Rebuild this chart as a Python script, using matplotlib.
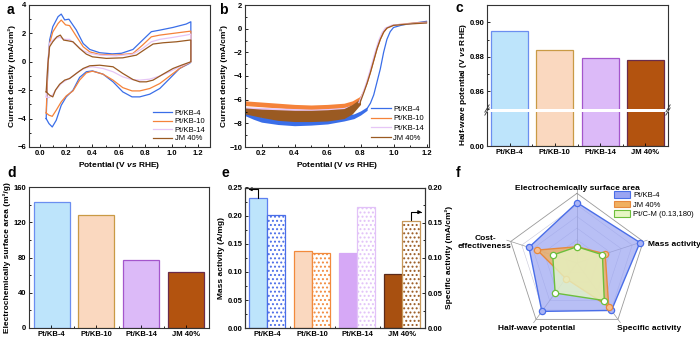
import numpy as np
import matplotlib
matplotlib.use('Agg')
import matplotlib.pyplot as plt
from matplotlib.ticker import MultipleLocator, FixedLocator
from matplotlib.patches import Patch

plt.rcParams['font.family'] = 'Liberation Sans'
plt.rcParams['font.weight'] = 'bold'
plt.rcParams['axes.labelweight'] = 'bold'
plt.rcParams['mathtext.fontset'] = 'custom'
plt.rcParams['mathtext.it'] = 'Liberation Sans:italic:bold'
plt.rcParams['mathtext.rm'] = 'Liberation Sans:bold'
plt.rcParams['hatch.linewidth'] = 0.9
plt.rcParams['axes.linewidth'] = 0.8
plt.rcParams['axes.edgecolor'] = '#333333'

samples = ['Pt/KB-4', 'Pt/KB-10', 'Pt/KB-14', 'JM 40%']
line_colors = ['#3a6ee8', '#f5833a', '#e6c6f6', '#9a5a22']

# ---- (a) CV loops: potential (V) / current density (mA/cm2)
cv_E = {
    'Pt/KB-4': [0.05, 0.063, 0.076, 0.10, 0.14, 0.164, 0.19, 0.222, 0.278, 0.33, 0.38, 0.455, 0.55, 0.62, 0.707,
                0.78, 0.846, 0.91, 1.01, 1.11, 1.145, 1.145, 1.137, 1.06, 0.985, 0.91, 0.834, 0.758, 0.70, 0.63,
                0.556, 0.48, 0.40, 0.354, 0.303, 0.253, 0.202, 0.164, 0.126, 0.096, 0.071, 0.05],
    'Pt/KB-10': [0.05, 0.063, 0.076, 0.10, 0.14, 0.164, 0.197, 0.227, 0.278, 0.33, 0.38, 0.455, 0.58, 0.707,
                 0.78, 0.846, 0.91, 1.01, 1.11, 1.145, 1.145, 1.137, 1.06, 0.985, 0.91, 0.834, 0.758, 0.70, 0.63,
                 0.556, 0.48, 0.40, 0.354, 0.303, 0.253, 0.202, 0.164, 0.126, 0.096, 0.071, 0.05],
    'Pt/KB-14': [0.05, 0.063, 0.076, 0.114, 0.152, 0.19, 0.227, 0.278, 0.33, 0.38, 0.455, 0.58, 0.707,
                 0.78, 0.846, 0.91, 1.01, 1.11, 1.145, 1.145, 1.137, 1.06, 0.985, 0.91, 0.834, 0.758, 0.70, 0.63,
                 0.556, 0.48, 0.40, 0.354, 0.303, 0.253, 0.202, 0.164, 0.126, 0.096, 0.071, 0.05],
    'JM 40%': [0.05, 0.063, 0.076, 0.10, 0.131, 0.157, 0.182, 0.215, 0.253, 0.303, 0.354, 0.40, 0.505, 0.63,
               0.733, 0.808, 0.859, 0.935, 1.036, 1.137, 1.145, 1.145, 1.074, 1.01, 0.935, 0.859, 0.808, 0.758,
               0.707, 0.63, 0.556, 0.455, 0.38, 0.33, 0.278, 0.227, 0.19, 0.152, 0.12, 0.10, 0.076, 0.05],
}
cv_j = {
    'Pt/KB-4': [-4.0, -0.35, 1.53, 2.47, 3.18, 3.36, 2.95, 3.0, 2.24, 1.29, 0.87, 0.64, 0.56, 0.6, 0.87,
                1.53, 2.12, 2.23, 2.42, 2.66, 2.82, 0.0, -0.1, -0.47, -1.18, -1.88, -2.28, -2.47, -2.47, -2.12,
                -1.41, -0.87, -0.64, -0.7, -1.1, -2.0, -2.47, -3.06, -4.12, -4.59, -4.35, -4.0],
    'Pt/KB-10': [-3.6, -0.35, 1.3, 2.1, 2.7, 2.94, 2.6, 2.55, 1.8, 1.06, 0.7, 0.52, 0.47, 0.59,
                 1.18, 1.76, 1.88, 2.0, 2.12, 2.16, 0.0, -0.05, -0.47, -1.0, -1.53, -1.88, -2.05, -2.05, -1.82,
                 -1.29, -0.87, -0.66, -0.78, -1.29, -2.05, -2.4, -2.82, -3.41, -3.84, -3.76, -3.6],
    'Pt/KB-14': [-2.47, 0.12, 1.3, 1.65, 1.72, 1.58, 1.58, 1.18, 0.78, 0.59, 0.47, 0.42, 0.54,
                 0.94, 1.41, 1.58, 1.72, 1.88, 1.95, 0.0, -0.05, -0.35, -0.7, -1.0, -1.22, -1.29, -1.25, -1.06,
                 -0.7, -0.47, -0.35, -0.42, -0.64, -1.0, -1.29, -1.53, -1.95, -2.35, -2.52, -2.47],
    'JM 40%': [-2.12, -0.12, 1.06, 1.41, 1.76, 1.88, 1.53, 1.48, 1.41, 0.94, 0.54, 0.35, 0.24, 0.28,
               0.47, 0.94, 1.25, 1.34, 1.41, 1.53, 1.53, 0.0, -0.24, -0.47, -0.87, -1.29, -1.41, -1.41,
               -1.25, -0.82, -0.35, -0.24, -0.28, -0.47, -0.82, -1.18, -1.29, -1.58, -2.0, -2.47, -2.35, -2.12],
}

# ---- (b) LSV: noisy plateau given as band (low/high), then the ORR wave
band_E = {
    'Pt/KB-4': [0.1, 0.15, 0.2, 0.3, 0.4, 0.5, 0.6, 0.7, 0.76, 0.8, 0.84],
    'Pt/KB-10': [0.1, 0.2, 0.3, 0.4, 0.5, 0.6, 0.7, 0.75, 0.8],
    'Pt/KB-14': [0.1, 0.2, 0.3, 0.4, 0.5, 0.6, 0.7, 0.76, 0.79],
    'JM 40%': [0.1, 0.2, 0.3, 0.4, 0.5, 0.6, 0.7, 0.75, 0.8],
}
band_hi = {
    'Pt/KB-4': [-7.0, -7.25, -7.45, -7.65, -7.7, -7.7, -7.6, -7.35, -7.2, -6.95, -6.6],
    'Pt/KB-10': [-6.1, -6.2, -6.3, -6.4, -6.45, -6.4, -6.3, -6.1, -5.7],
    'Pt/KB-14': [-6.6, -6.65, -6.7, -6.75, -6.8, -6.75, -6.65, -6.4, -6.1],
    'JM 40%': [-6.7, -6.8, -6.85, -6.9, -6.9, -6.85, -6.75, -6.4, -5.9],
}
band_lo = {
    'Pt/KB-4': [-7.35, -7.65, -7.9, -8.1, -8.2, -8.15, -8.05, -7.8, -7.6, -7.3, -6.9],
    'Pt/KB-10': [-6.5, -6.6, -6.7, -6.8, -6.85, -6.8, -6.7, -6.5, -6.0],
    'Pt/KB-14': [-7.0, -7.05, -7.1, -7.15, -7.2, -7.15, -7.05, -6.8, -6.4],
    'JM 40%': [-7.2, -7.5, -7.75, -7.85, -7.85, -7.8, -7.6, -7.2, -6.4],
}
wave_E = {
    'Pt/KB-4': [0.84, 0.86, 0.88, 0.90, 0.92, 0.94, 0.96, 0.98, 1.0, 1.05, 1.1, 1.15, 1.2],
    'Pt/KB-10': [0.8, 0.82, 0.84, 0.86, 0.88, 0.90, 0.92, 0.94, 0.96, 1.0, 1.1, 1.2],
    'Pt/KB-14': [0.79, 0.81, 0.83, 0.85, 0.87, 0.89, 0.91, 0.93, 0.95, 0.99, 1.1, 1.2],
    'JM 40%': [0.8, 0.82, 0.84, 0.86, 0.88, 0.90, 0.92, 0.94, 0.96, 1.0, 1.1, 1.2],
}
wave_j = {
    'Pt/KB-4': [-6.75, -6.3, -5.6, -4.5, -3.4, -2.0, -0.9, -0.25, 0.1, 0.3, 0.42, 0.52, 0.62],
    'Pt/KB-10': [-5.85, -5.3, -4.6, -3.7, -2.7, -1.7, -0.9, -0.3, 0.05, 0.3, 0.45, 0.55],
    'Pt/KB-14': [-6.25, -5.6, -4.8, -3.9, -2.9, -1.9, -1.0, -0.35, 0.05, 0.3, 0.42, 0.5],
    'JM 40%': [-6.15, -5.4, -4.6, -3.7, -2.7, -1.7, -0.9, -0.3, 0.05, 0.28, 0.4, 0.48],
}

# ---- (c)-(e) bar data
halfwave = [0.895, 0.884, 0.879, 0.878]
ecsa = [143, 128, 77, 63]
mass_act = [0.231, 0.137, 0.133, 0.096]
spec_act = [0.161, 0.107, 0.173, 0.152]

bar_face = ['#bde4fb', '#fad8bf', '#dcbaf8', '#b3530f']
bar_edge = ['#6b8ef0', '#c99a45', '#a456cc', '#6a2c4c']
e_face = ['#bde4fb', '#fad8bf', '#d6a8f6', '#a85010']
e_edge = ['#5d7ff0', '#f28a3c', '#d6a8f6', '#5a2a1a']
dot_color = ['#4a6ee8', '#f28a3c', '#e2c2f8', '#9a5a22']
dot_edge = ['#4a6ee8', '#f28a3c', '#e2c2f8', '#c8995a']

# ---- (f) radar
radar_axes = ['Electrochemically surface area', 'Mass activity', 'Specific activity',
              'Half-wave potential', 'Cost-\neffectiveness']
radar_names = ['Pt/KB-4', 'JM 40%', 'Pt/C-M (0.13,180)']
radar_vals = [[1.04, 1.14, 1.01, 1.03, 0.87],
              [0.28, 0.51, 0.93, 0.33, 0.72],
              [0.28, 0.46, 0.80, 0.64, 0.44]]
radar_line = ['#4a6ee8', '#e68a3e', '#6cbf3c']
radar_fill = ['#9aa4f2', '#f0b060', '#e6f6c4']
radar_alpha = [0.7, 0.8, 0.78]
radar_mfc = ['#aab4f5', '#f5bd90', 'white']

W, H = 700, 339
fig = plt.figure(figsize=(W / 100, H / 100), dpi=100)


def px_axes(l, t, r, b):
    return fig.add_axes([l / W, 1 - b / H, (r - l) / W, (b - t) / H])


def style(ax):
    ax.tick_params(which='both', direction='in', labelsize=5.5, pad=2, width=0.6)
    ax.tick_params(which='major', length=2.5)
    ax.tick_params(which='minor', length=1.5)


tick_font = 5.5
lab_font = 6
leg_font = 5.5

# (a)
ax = px_axes(29, 5, 210, 147)
for s, c in zip(samples, line_colors):
    ax.plot(cv_E[s], cv_j[s], color=c, lw=0.9, label=s)
ax.set_xlim(-0.08, 1.29)
ax.set_ylim(-6, 4)
ax.xaxis.set_major_locator(MultipleLocator(0.2))
ax.xaxis.set_minor_locator(MultipleLocator(0.1))
ax.yaxis.set_major_locator(MultipleLocator(2))
ax.yaxis.set_minor_locator(MultipleLocator(1))
ax.xaxis.set_major_formatter(lambda v, p: f'{v:.1f}')
style(ax)
ax.set_xlabel(r'Potential (V $\mathit{vs}$ RHE)', fontsize=lab_font, labelpad=2)
ax.set_ylabel('Current density (mA/cm²)', fontsize=lab_font, labelpad=1)
ax.legend(loc='lower right', frameon=False, prop=dict(size=leg_font, weight='normal'),
          handlelength=2.6, handletextpad=0.3, labelspacing=0.15, borderaxespad=0.2)

# (b)
ax = px_axes(245, 5, 429, 147)
for s, c in zip(samples, line_colors):
    ax.fill_between(band_E[s], band_lo[s], band_hi[s], color=c, lw=0)
    ax.plot(wave_E[s], wave_j[s], color=c, lw=0.9, label=s)
ax.set_xlim(0.1, 1.215)
ax.set_ylim(-10, 2)
ax.xaxis.set_major_locator(FixedLocator([0.2, 0.4, 0.6, 0.8, 1.0, 1.2]))
ax.xaxis.set_minor_locator(MultipleLocator(0.1))
ax.yaxis.set_major_locator(MultipleLocator(2))
ax.yaxis.set_minor_locator(MultipleLocator(1))
ax.xaxis.set_major_formatter(lambda v, p: f'{v:.1f}')
style(ax)
ax.set_xlabel(r'Potential (V $\mathit{vs}$ RHE)', fontsize=lab_font, labelpad=2)
ax.set_ylabel('Current density (mA/cm²)', fontsize=lab_font, labelpad=1)
ax.legend(loc='lower right', frameon=False, prop=dict(size=leg_font, weight='normal'),
          handlelength=2.6, handletextpad=0.3, labelspacing=0.3, borderaxespad=0.3)

# (c) broken axis
x = np.arange(len(samples))
ax_t = px_axes(487, 5, 668, 108.5)
ax_b = px_axes(487, 111.5, 668, 146)
for a in (ax_t, ax_b):
    a.bar(x, halfwave, width=0.82, color=bar_face, edgecolor=bar_edge, lw=0.9)
    a.set_xlim(-0.5, 3.5)
    style(a)
ax_t.set_ylim(0.85, 0.91)
ax_t.yaxis.set_major_locator(FixedLocator([0.86, 0.88, 0.90]))
ax_t.yaxis.set_minor_locator(MultipleLocator(0.01))
ax_t.yaxis.set_major_formatter(lambda v, p: f'{v:.2f}')
ax_t.spines['bottom'].set_visible(False)
ax_t.tick_params(axis='x', which='both', bottom=False, labelbottom=False)
ax_b.set_ylim(0, 0.1)
ax_b.set_yticks([0.0])
ax_b.yaxis.set_major_formatter(lambda v, p: f'{v:.2f}')
ax_b.spines['top'].set_visible(False)
ax_b.set_xticks(x)
ax_b.set_xticklabels(samples, fontsize=tick_font)
ax_b.xaxis.set_minor_locator(FixedLocator([0.5, 1.5, 2.5]))
for a, y0, k in ((ax_t, 0, 1), (ax_b, 1, 3)):
    for xx in (0, 1):
        a.plot([xx - 0.012, xx + 0.012], [y0 - 0.035 * k, y0 + 0.035 * k],
               transform=a.transAxes, color='#333333', lw=0.6, clip_on=False)
fig.text(463 / W, 1 - 84 / H, r'Half-wave potential (V $\mathit{vs}$ RHE)', rotation=90,
         fontsize=lab_font, ha='center', va='center')

# (d)
ax = px_axes(29, 187, 209, 328)
ax.bar(x, ecsa, width=0.8, color=bar_face, edgecolor=bar_edge, lw=0.9)
ax.set_xlim(-0.5, 3.5)
ax.set_ylim(0, 160)
ax.yaxis.set_major_locator(MultipleLocator(40))
ax.yaxis.set_minor_locator(MultipleLocator(20))
ax.set_xticks(x)
ax.set_xticklabels(samples, fontsize=tick_font)
ax.xaxis.set_minor_locator(FixedLocator([0.5, 1.5, 2.5]))
style(ax)
ax.set_ylabel('Electrochemically surface area (m²/g)', fontsize=lab_font, labelpad=2)

# (e)
ax = px_axes(245, 187.5, 425, 328.3)
ax2 = ax.twinx()
ax.bar(x - 0.2, mass_act, width=0.4, color=e_face, edgecolor=e_edge, lw=0.9)
ax2.bar(x + 0.2, spec_act, width=0.4, color='white', edgecolor=dot_color, lw=0, hatch='....')
ax2.bar(x + 0.2, spec_act, width=0.4, color='none', edgecolor=dot_edge, lw=0.9)
ax.set_xlim(-0.5, 3.5)
ax.set_ylim(0, 0.25)
ax2.set_ylim(0, 0.20)
ax.yaxis.set_major_locator(MultipleLocator(0.05))
ax.yaxis.set_minor_locator(MultipleLocator(0.025))
ax2.yaxis.set_major_locator(MultipleLocator(0.05))
ax2.yaxis.set_minor_locator(MultipleLocator(0.025))
ax.yaxis.set_major_formatter(lambda v, p: f'{v:.2f}')
ax2.yaxis.set_major_formatter(lambda v, p: f'{v:.2f}')
ax.set_xticks(x)
ax.set_xticklabels(samples, fontsize=tick_font)
ax.xaxis.set_minor_locator(FixedLocator([0.5, 1.5, 2.5]))
style(ax)
style(ax2)
ax.set_ylabel('Mass activity (A/mg)', fontsize=lab_font, labelpad=2)
ax2.set_ylabel('Specific activity (mA/cm²)', fontsize=lab_font, labelpad=2)
arrow = dict(arrowstyle='-|>', connectionstyle='angle,angleA=90,angleB=0,rad=0',
             color='black', lw=0.8, shrinkA=0, shrinkB=0, mutation_scale=5)
ax.annotate('', xy=(-0.43, mass_act[0] + 0.016), xytext=(-0.22, mass_act[0] + 0.001), arrowprops=arrow)
ax2.annotate('', xy=(3.43, spec_act[3] + 0.013), xytext=(3.19, spec_act[3] + 0.002), arrowprops=arrow)

# (f) radar chart
axr = px_axes(505, 191, 649, 335)
axr.set_xlim(-1.24, 1.24)
axr.set_ylim(-1.24, 1.24)
axr.axis('off')
ang = np.deg2rad(90 - 72 * np.arange(5))
ring_ang = np.append(ang, ang[0])
for r in [0.2, 0.4, 0.6, 0.8, 1.0, 1.2]:
    axr.plot(r * np.cos(ring_ang), r * np.sin(ring_ang), color='#9a9a9a' if r == 1.2 else '#c8c8d8',
             lw=0.6 if r == 1.2 else 0.4, zorder=1)
for a in ang:
    axr.plot([0, 1.27 * np.cos(a)], [0, 1.27 * np.sin(a)], color='#9a9a9a', lw=0.5, zorder=1, clip_on=False)
handles = []
for i, (vals, name, lc, fc, al, mfc) in enumerate(zip(radar_vals, radar_names, radar_line, radar_fill,
                                                      radar_alpha, radar_mfc)):
    z = 2 + 3 * i
    v = np.array(vals + vals[:1])
    xs, ys = v * np.cos(ring_ang), v * np.sin(ring_ang)
    axr.fill(xs, ys, color=fc, alpha=al, lw=0, zorder=z)
    axr.plot(xs, ys, color=lc, lw=1.0, zorder=z + 1)
    axr.plot(xs[:-1], ys[:-1], 'o', ms=4.5, mfc=mfc, mec=lc, mew=0.9, zorder=z + 2)
    handles.append(Patch(facecolor=fc, edgecolor=lc, lw=0.8, label=name))
fs = 6
axr.text(0, 1.29, radar_axes[0], ha='center', va='center', fontsize=fs, clip_on=False)
axr.text(1.23, 0.31, radar_axes[1], ha='left', va='center', fontsize=fs, clip_on=False)
axr.text(1.24, -1.12, radar_axes[2], ha='center', va='center', fontsize=fs, clip_on=False)
axr.text(-0.69, -1.12, radar_axes[3], ha='center', va='center', fontsize=fs, clip_on=False)
axr.text(-1.12, 0.35, radar_axes[4], ha='right', va='center', fontsize=fs, multialignment='center',
         clip_on=False)
fig.legend(handles=handles, loc='upper left', bbox_to_anchor=(614 / W, 1 - 191 / H), frameon=False,
           prop=dict(size=leg_font, weight='normal'), handlelength=2.1, handleheight=1.0,
           handletextpad=0.4, labelspacing=0.2, borderaxespad=0, borderpad=0)

# panel letters
for lbl, px, py in [('a', 7, 3), ('b', 219, 3), ('c', 455, 1), ('d', 7, 166), ('e', 221, 166), ('f', 456, 166)]:
    fig.text(px / W, 1 - py / H, lbl, fontsize=10, fontweight='bold', ha='left', va='top')

fig.savefig('out.png', dpi=100)
